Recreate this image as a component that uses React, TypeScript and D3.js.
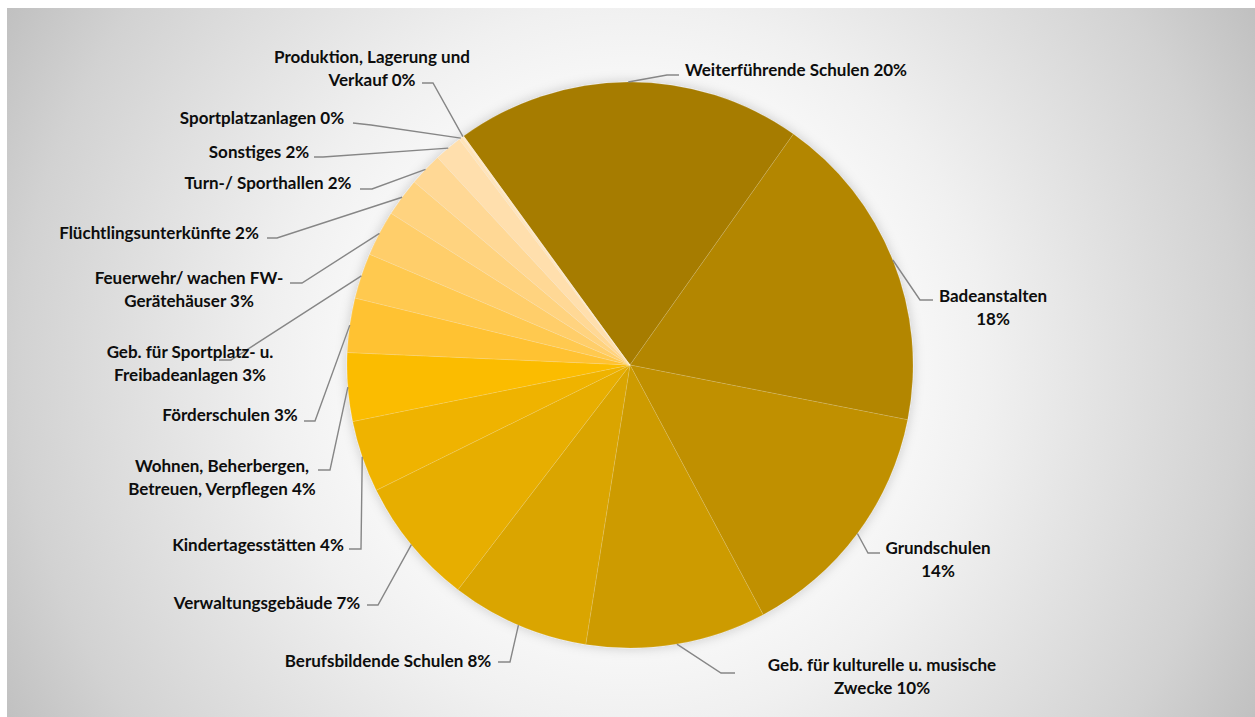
import React from "react";
import * as d3 from "d3";

// ---------- data ----------
const categories: string[] = [
  "Weiterführende Schulen",
  "Badeanstalten",
  "Grundschulen",
  "Geb. für kulturelle u. musische Zwecke",
  "Berufsbildende Schulen",
  "Verwaltungsgebäude",
  "Kindertagesstätten",
  "Wohnen, Beherbergen, Betreuen, Verpflegen",
  "Förderschulen",
  "Geb. für Sportplatz- u. Freibadeanlagen",
  "Feuerwehr/ wachen FW-Gerätehäuser",
  "Flüchtlingsunterkünfte",
  "Turn-/ Sporthallen",
  "Sonstiges",
  "Sportplatzanlagen",
  "Produktion, Lagerung und Verkauf",
];

const values: number[] = [
  19.8, 18.3, 14.1, 10.3, 7.9, 7.3, 4.1, 3.9, 3.1, 2.6, 2.6, 2.2, 1.9, 1.6, 0.2, 0.1,
];

const colors: string[] = [
  "#A67C00",
  "#B38600",
  "#C09000",
  "#CD9B00",
  "#DAA500",
  "#E7AE00",
  "#EFB300",
  "#FBBC00",
  "#FFC233",
  "#FFC94F",
  "#FFCE6A",
  "#FFD37F",
  "#FFD895",
  "#FFDFAD",
  "#FFE4BA",
  "#FFE9C6",
];

// ---------- layout (label placement) ----------
type LabelLayout = {
  lines: string[];
  pctOwnLine?: boolean;
  x: number;
  y: number;
  elbow: [number, number];
  end: [number, number];
};

const labelLayout: LabelLayout[] = [
  { lines: ["Weiterführende Schulen"], x: 796, y: 76, elbow: [667, 75], end: [679, 75] },
  { lines: ["Badeanstalten"], pctOwnLine: true, x: 993, y: 302, elbow: [920, 300], end: [933, 300] },
  { lines: ["Grundschulen"], pctOwnLine: true, x: 938, y: 554, elbow: [868, 553], end: [880, 553] },
  { lines: ["Geb. für kulturelle u. musische", "Zwecke"], x: 882, y: 671, elbow: [721, 673], end: [735, 673] },
  { lines: ["Berufsbildende Schulen"], x: 388, y: 667, elbow: [510, 662], end: [498, 662] },
  { lines: ["Verwaltungsgebäude"], x: 267, y: 609, elbow: [378, 605], end: [367, 605] },
  { lines: ["Kindertagesstätten"], x: 258, y: 551, elbow: [361, 549], end: [349, 549] },
  { lines: ["Wohnen, Beherbergen,", "Betreuen, Verpflegen"], x: 222, y: 472, elbow: [330, 470], end: [318, 470] },
  { lines: ["Förderschulen"], x: 230, y: 421, elbow: [315, 421], end: [304, 421] },
  { lines: ["Geb. für Sportplatz- u.", "Freibadeanlagen"], x: 190, y: 358, elbow: [231, 360], end: [219, 360] },
  { lines: ["Feuerwehr/ wachen FW-", "Gerätehäuser"], x: 189, y: 284, elbow: [302, 283], end: [290, 283] },
  { lines: ["Flüchtlingsunterkünfte"], x: 159, y: 239, elbow: [277, 238], end: [267, 238] },
  { lines: ["Turn-/ Sporthallen"], x: 268, y: 189, elbow: [372, 189], end: [360, 189] },
  { lines: ["Sonstiges"], x: 259, y: 158, elbow: [323, 157], end: [314, 157] },
  { lines: ["Sportplatzanlagen"], x: 262, y: 124, elbow: [371, 125], end: [353, 123] },
  { lines: ["Produktion, Lagerung und", "Verkauf"], x: 372, y: 63, elbow: [433, 83], end: [422, 83] },
];

const W = 1255;
const H = 717;
const CX = 630;
const CY = 365;
const R = 283;
const START_DEG = -36;
const LINE_H = 23;

export default function App() {
  const pie = d3
    .pie<number>()
    .sort(null)
    .value((d) => d)
    .startAngle((START_DEG * Math.PI) / 180)
    .endAngle(((START_DEG + 360) * Math.PI) / 180);
  const arcs = pie(values);
  const arc = d3.arc<d3.PieArcDatum<number>>().innerRadius(0).outerRadius(R);
  const line = d3.line();

  return (
    <svg
      width={W}
      height={H}
      style={{ position: "absolute", left: 0, top: 0 }}
      fontFamily="Lato, 'Open Sans', sans-serif"
    >
      <defs>
        <radialGradient id="bg" gradientUnits="userSpaceOnUse" cx={CX} cy={CY} r={720}>
          <stop offset="0" stopColor="#FFFFFF" />
          <stop offset="0.35" stopColor="#FAFAFA" />
          <stop offset="0.5" stopColor="#F0F0F0" />
          <stop offset="0.65" stopColor="#E3E3E3" />
          <stop offset="0.85" stopColor="#D2D2D2" />
          <stop offset="1" stopColor="#C0C0C0" />
        </radialGradient>
        <filter id="shadow" x="-20%" y="-20%" width="140%" height="140%">
          <feGaussianBlur in="SourceAlpha" stdDeviation="6" result="blur" />
          <feFlood floodColor="#000" floodOpacity="0.2" />
          <feComposite in2="blur" operator="in" result="shadow" />
          <feMerge>
            <feMergeNode in="shadow" />
            <feMergeNode in="SourceGraphic" />
          </feMerge>
        </filter>
      </defs>
      <rect x={0} y={0} width={W} height={H} fill="#FFFFFF" />
      <rect x={7} y={8} width={W - 7} height={H - 8} fill="url(#bg)" />

      <g transform={`translate(${CX},${CY})`} filter="url(#shadow)">
        {arcs.map((a, i) => (
          <path
            key={i}
            d={arc(a) || ""}
            fill={colors[i]}
            stroke="#FFFFFF"
            strokeOpacity={0.22}
            strokeWidth={0.6}
          />
        ))}
      </g>

      {arcs.map((a, i) => {
        const mid = (a.startAngle + a.endAngle) / 2;
        const p: [number, number] = [CX + R * Math.sin(mid), CY - R * Math.cos(mid)];
        const L = labelLayout[i];
        return (
          <path
            key={"l" + i}
            d={line([p, L.elbow, L.end]) || ""}
            fill="none"
            stroke="#868686"
            strokeWidth={1.4}
          />
        );
      })}

      {arcs.map((a, i) => {
        const L = labelLayout[i];
        const pct = `${Math.round(values[i])}%`;
        const lines = L.pctOwnLine
          ? [...L.lines, pct]
          : L.lines.map((s, k) => (k === L.lines.length - 1 ? `${s} ${pct}` : s));
        return (
          <text
            key={"t" + i}
            x={L.x}
            y={L.y}
            textAnchor="middle"
            fontSize={17}
            fontWeight="bold"
            fill="#0D0D0D"
          >
            {lines.map((s, k) => (
              <tspan key={k} x={L.x} dy={k === 0 ? 0 : LINE_H}>
                {s}
              </tspan>
            ))}
          </text>
        );
      })}
    </svg>
  );
}
